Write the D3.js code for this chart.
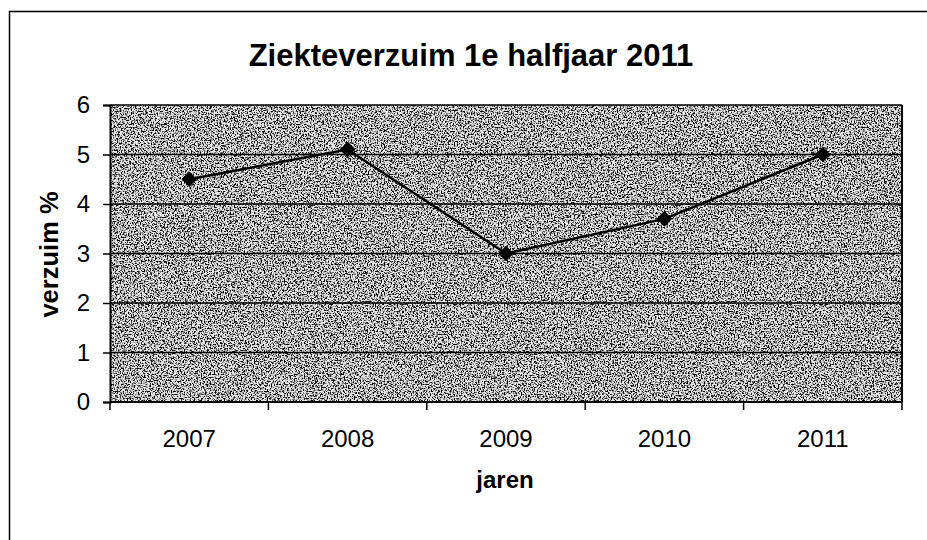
<!DOCTYPE html>
<html>
<head>
<meta charset="utf-8">
<script src="https://cdn.jsdelivr.net/npm/d3@7"></script>
<style>
  body { margin: 0; background: #fff; }
  text { font-family: "Liberation Sans", Arial, sans-serif; fill: #000; }
</style>
</head>
<body>
<div id="chart"></div>
<script>
// chart values
var years = ["2007", "2008", "2009", "2010", "2011"];
var verzuim = [4.5, 5.1, 3.0, 3.7, 5.0];
var yTicks = [0, 1, 2, 3, 4, 5, 6];

var w = 927, h = 540;
var pLeft = 110, pRight = 902, pTop = 105, pBottom = 402;

var svg = d3.select("#chart").append("svg")
    .attr("width", w)
    .attr("height", h);

// grainy grey fill, like the scanned print
var defs = svg.append("defs");
var f = defs.append("filter").attr("id", "grain")
    .attr("x", 0).attr("y", 0).attr("width", "100%").attr("height", "100%");
f.append("feTurbulence")
    .attr("type", "fractalNoise")
    .attr("baseFrequency", 0.7)
    .attr("numOctaves", 3)
    .attr("seed", 3)
    .attr("result", "noise");
f.append("feColorMatrix")
    .attr("in", "noise")
    .attr("type", "matrix")
    .attr("values", "0 0 0 0 0  0 0 0 0 0  0 0 0 0 0  0 0 0 -5 2.7")
    .attr("result", "dots");
f.append("feComposite").attr("in", "dots").attr("in2", "SourceGraphic").attr("operator", "in");

// outer frame
svg.append("rect")
    .attr("x", 9.5).attr("y", 11.5)
    .attr("width", 940).attr("height", 560)
    .attr("fill", "none")
    .attr("stroke", "#000")
    .attr("stroke-width", 1.5);

var x = d3.scaleBand().domain(years).range([pLeft, pRight]);
var y = d3.scaleLinear().domain([0, 6]).range([pBottom, pTop]);

// plot background
svg.append("rect")
    .attr("x", pLeft).attr("y", pTop)
    .attr("width", pRight - pLeft).attr("height", pBottom - pTop)
    .attr("fill", "#e6e6e6");
svg.append("rect")
    .attr("x", pLeft).attr("y", pTop)
    .attr("width", pRight - pLeft).attr("height", pBottom - pTop)
    .attr("fill", "#1a1a1a")
    .attr("filter", "url(#grain)");

// gridlines
svg.append("g").selectAll("line")
    .data(yTicks.slice(1))
    .join("line")
    .attr("x1", pLeft).attr("x2", pRight)
    .attr("y1", d => y(d)).attr("y2", d => y(d))
    .attr("stroke", "#000")
    .attr("stroke-width", 1.5);

// right border of plot
svg.append("line")
    .attr("x1", pRight).attr("x2", pRight)
    .attr("y1", pTop).attr("y2", pBottom)
    .attr("stroke", "#000").attr("stroke-width", 2);

// y axis
var yAxis = svg.append("g")
    .attr("transform", "translate(" + pLeft + ",0)")
    .call(d3.axisLeft(y).tickValues(yTicks).tickSize(7).tickPadding(13).tickFormat(d3.format("d")));
yAxis.select(".domain").attr("stroke-width", 2);
yAxis.selectAll("line").attr("stroke-width", 1.5);
yAxis.selectAll("text").style("font-size", "24px").attr("font-family", null);

// x axis with ticks between categories
var xAxis = svg.append("g")
    .attr("transform", "translate(0," + pBottom + ")");
xAxis.append("line")
    .attr("x1", pLeft).attr("x2", pRight)
    .attr("stroke", "#000").attr("stroke-width", 2);
var bounds = years.map(d => x(d)).concat([pRight]);
xAxis.selectAll(".tk")
    .data(bounds)
    .join("line")
    .attr("class", "tk")
    .attr("x1", d => d).attr("x2", d => d)
    .attr("y1", 0).attr("y2", 8)
    .attr("stroke", "#000").attr("stroke-width", 1.5);
xAxis.selectAll(".lbl")
    .data(years)
    .join("text")
    .attr("class", "lbl")
    .attr("x", d => x(d) + x.bandwidth() / 2)
    .attr("y", 45)
    .attr("text-anchor", "middle")
    .style("font-size", "24px")
    .text(d => d);

// line + diamond markers
var pts = years.map((d, i) => [x(d) + x.bandwidth() / 2, y(verzuim[i])]);
svg.append("path")
    .attr("d", d3.line()(pts))
    .attr("fill", "none")
    .attr("stroke", "#000")
    .attr("stroke-width", 2.5);
svg.append("g").selectAll("path")
    .data(pts)
    .join("path")
    .attr("transform", d => "translate(" + d + ")rotate(45)")
    .attr("d", "M-5.5,-5.5H5.5V5.5H-5.5Z")
    .attr("fill", "#000");

// titles
svg.append("text")
    .attr("x", 471).attr("y", 66)
    .attr("text-anchor", "middle")
    .style("font-size", "31px").style("font-weight", "bold")
    .text("Ziekteverzuim 1e halfjaar 2011");

svg.append("text")
    .attr("transform", "translate(58,254.5)rotate(-90)")
    .attr("text-anchor", "middle")
    .style("font-size", "25.5px").style("font-weight", "bold")
    .text("verzuim %");

svg.append("text")
    .attr("x", 505).attr("y", 488)
    .attr("text-anchor", "middle")
    .style("font-size", "24px").style("font-weight", "bold")
    .text("jaren");
</script>
</body>
</html>
